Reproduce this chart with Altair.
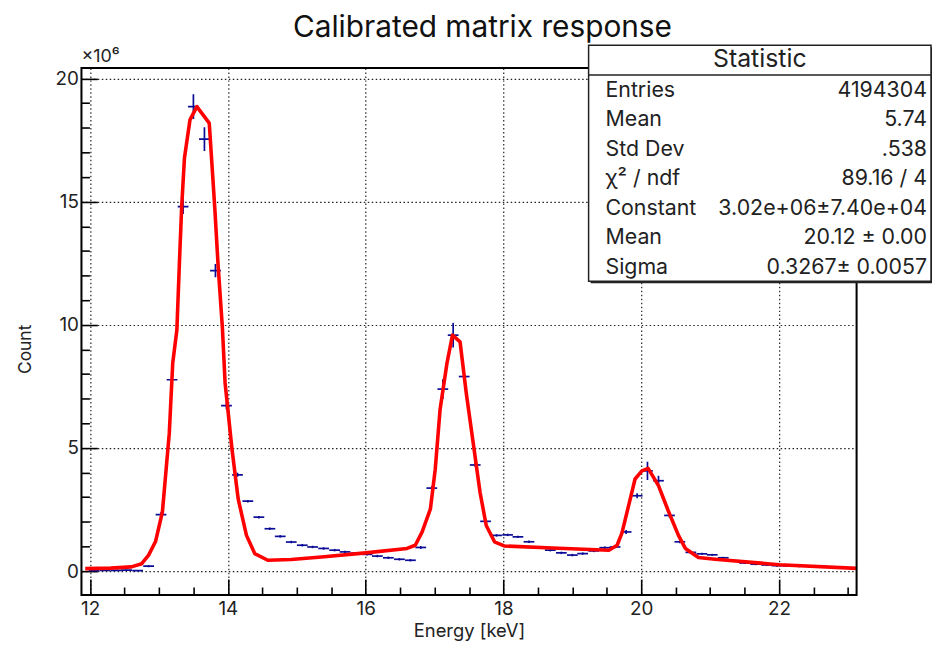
import altair as alt
import pandas as pd

# ---------------- data ----------------
bin_center_kev = [12.06, 12.22, 12.38, 12.53, 12.69, 12.85, 13.03, 13.19, 13.35, 13.50,
                  13.66, 13.82, 13.98, 14.14, 14.29, 14.45, 14.61, 14.76, 14.92, 15.08,
                  15.23, 15.39, 15.55, 15.70, 15.86, 16.02, 16.17, 16.33, 16.49, 16.65,
                  16.80, 16.96, 17.12, 17.27, 17.43, 17.59, 17.74, 17.90, 18.06, 18.21,
                  18.37, 18.53, 18.68, 18.84, 19.00, 19.15, 19.31, 19.47, 19.62, 19.78,
                  19.94, 20.09, 20.25, 20.41, 20.56, 20.72, 20.88, 21.03, 21.19, 21.35,
                  21.50, 21.66, 21.82, 21.97, 22.13, 22.29, 22.44, 22.60, 22.76, 22.91,
                  23.07]
count_millions = [0.02, 0.03, 0.03, 0.04, 0.02, 0.20, 2.29, 7.77, 14.80, 18.86,
                  17.54, 12.20, 6.72, 3.91, 2.84, 2.19, 1.72, 1.41, 1.18, 1.05,
                  0.98, 0.92, 0.85, 0.78, 0.73, 0.68, 0.61, 0.54, 0.48, 0.44,
                  0.96, 3.37, 7.39, 9.58, 7.90, 4.31, 2.02, 1.45, 1.47, 1.39,
                  1.19, 0.97, 0.85, 0.74, 0.65, 0.71, 0.82, 0.95, 0.98, 1.59,
                  3.06, 4.07, 3.67, 2.26, 1.19, 0.76, 0.70, 0.66, 0.54, 0.42,
                  0.33, 0.28, 0.25, 0.22, 0.21, 0.20, 0.20, 0.18, 0.16, 0.14,
                  0.13]
count_err_millions = [0.02, 0.02, 0.02, 0.02, 0.02, 0.04, 0.10, 0.20, 0.30, 0.50,
                      0.48, 0.27, 0.15, 0.08, 0.05, 0.05, 0.05, 0.05, 0.05, 0.05,
                      0.05, 0.05, 0.05, 0.05, 0.05, 0.05, 0.05, 0.05, 0.05, 0.05,
                      0.06, 0.08, 0.40, 0.50, 0.15, 0.08, 0.05, 0.05, 0.05, 0.05,
                      0.05, 0.05, 0.05, 0.05, 0.05, 0.05, 0.05, 0.05, 0.05, 0.08,
                      0.10, 0.37, 0.20, 0.08, 0.06, 0.04, 0.04, 0.04, 0.04, 0.04,
                      0.04, 0.04, 0.04, 0.04, 0.04, 0.04, 0.04, 0.04, 0.04, 0.04,
                      0.04]
bin_half_width_kev = 0.078

fit_energy_kev = [11.93, 12.30, 12.60, 12.75, 12.85, 12.95, 13.05, 13.15, 13.20, 13.26,
                  13.30, 13.33, 13.37, 13.45, 13.55, 13.73, 13.81, 13.86, 13.92, 13.96,
                  14.06, 14.15, 14.27, 14.39, 14.58, 14.92, 15.40, 16.00, 16.60, 16.72,
                  16.82, 16.94, 17.01, 17.08, 17.18, 17.26, 17.37, 17.46, 17.56, 17.66,
                  17.75, 17.87, 18.01, 18.71, 19.53, 19.65, 19.72, 19.82, 19.91, 20.01,
                  20.10, 20.25, 20.39, 20.54, 20.64, 20.83, 21.07, 22.00, 23.13]
fit_count_millions = [0.10, 0.12, 0.17, 0.30, 0.65, 1.20, 2.40, 5.60, 8.45, 9.79,
                      12.74, 14.80, 16.77, 18.32, 18.86, 18.19, 14.76, 12.34, 9.92, 7.64,
                      4.95, 2.93, 1.45, 0.71, 0.44, 0.47, 0.58, 0.74, 0.92, 1.05,
                      1.59, 2.53, 4.14, 6.56, 8.44, 9.58, 9.31, 7.23, 5.22, 3.20,
                      1.85, 1.19, 1.02, 0.94, 0.85, 1.05, 1.55, 2.70, 3.74, 4.07,
                      4.17, 3.47, 2.46, 1.45, 0.92, 0.55, 0.48, 0.26, 0.11]

x_major_ticks = [12, 14, 16, 18, 20, 22]
x_minor_ticks = [12.5, 13, 13.5, 14.5, 15, 15.5, 16.5, 17, 17.5, 18.5, 19, 19.5,
                 20.5, 21, 21.5, 22.5, 23]
y_major_ticks = [0, 5, 10, 15, 20]
y_minor_ticks = [1, 2, 3, 4, 6, 7, 8, 9, 11, 12, 13, 14, 16, 17, 18, 19]

stat_labels = ["Entries", "Mean", "Std Dev", "\u03c7\u00b2 / ndf", "Constant", "Mean", "Sigma"]
stat_values = ["4194304", "5.74", ".538", "89.16 / 4", "3.02e+06\u00b17.40e+04",
               "20.12 \u00b1 0.00", "0.3267\u00b1 0.0057"]

assert len(bin_center_kev) == len(count_millions) == len(count_err_millions)
assert len(fit_energy_kev) == len(fit_count_millions)

# ---------------- tables ----------------
pts = pd.DataFrame({"energy": bin_center_kev, "count": count_millions,
                    "err": count_err_millions})
pts["lo"] = pts["count"] - pts["err"]
pts["hi"] = pts["count"] + pts["err"]
pts["elo"] = pts["energy"] - bin_half_width_kev
pts["ehi"] = pts["energy"] + bin_half_width_kev
fit = pd.DataFrame({"energy": fit_energy_kev, "count": fit_count_millions})
one = pd.DataFrame({"k": [0]})

# ---------------- styling ----------------
W, H = 781, 531
FONT = "Inter"
BLUE = "#0c0c96"
RED = "#ff0000"
INK = "#222222"
xs = alt.Scale(domain=[11.875, 23.125], nice=False, zero=False)
ys = alt.Scale(domain=[-0.97, 20.43], nice=False, zero=False)

x_axis = alt.Axis(orient="bottom", values=x_major_ticks, title="Energy [keV]",
                  grid=True, gridDash=[1.5, 2.5], gridColor=INK, gridWidth=1.2,
                  domain=False, tickSize=16, offset=-16, tickColor="black", tickWidth=1.6,
                  labelFont=FONT, labelFontSize=19, labelColor=INK, labelPadding=5,
                  titleFont=FONT, titleFontSize=18.5, titleFontWeight="normal",
                  titleColor=INK, titlePadding=3)
y_axis = alt.Axis(orient="left", values=y_major_ticks, title="Count",
                  grid=True, gridDash=[1.5, 2.5], gridColor=INK, gridWidth=1.2,
                  domain=False, tickSize=16, offset=-16, tickColor="black", tickWidth=1.6,
                  labelFont=FONT, labelFontSize=19, labelColor=INK, labelPadding=3,
                  titleFont=FONT, titleFontSize=17.5, titleFontWeight="normal",
                  titleColor=INK, titlePadding=21, titleY=283)
x_minor_axis = alt.Axis(orient="bottom", values=x_minor_ticks, title=None, labels=False,
                        grid=False, domain=False, tickSize=8, offset=-8,
                        tickColor="black", tickWidth=1.6)
y_minor_axis = alt.Axis(orient="left", values=y_minor_ticks, title=None, labels=False,
                        grid=False, domain=False, tickSize=8, offset=-8,
                        tickColor="black", tickWidth=1.6)

# ---------------- data layers ----------------
vbars = alt.Chart(pts).mark_rule(color=BLUE, strokeWidth=1.7, clip=True).encode(
    x=alt.X("energy:Q", scale=xs, axis=x_axis),
    y=alt.Y("lo:Q", scale=ys, axis=y_axis),
    y2="hi:Q",
)
minor = alt.Chart(pts).mark_point(opacity=0).encode(
    x=alt.X("energy:Q", scale=xs, axis=x_minor_axis),
    y=alt.Y("count:Q", scale=ys, axis=y_minor_axis),
)
hbars = alt.Chart(pts).mark_rule(color=BLUE, strokeWidth=1.7, clip=True).encode(
    x=alt.X("elo:Q", scale=xs, axis=None),
    x2="ehi:Q",
    y=alt.Y("count:Q", scale=ys, axis=None),
)
fit_line = alt.Chart(fit).mark_line(color=RED, strokeWidth=3.6, clip=True,
                                    strokeJoin="round").encode(
    x=alt.X("energy:Q", scale=xs, axis=None),
    y=alt.Y("count:Q", scale=ys, axis=None),
    order="energy:Q",
)

frame = alt.Chart(one).mark_rect(fillOpacity=0, stroke="black", strokeWidth=2).encode(
    x=alt.value(0), x2=alt.value(W), y=alt.value(0), y2=alt.value(H))

# statistics box
BX0, BX1, BY0, BY1 = 511, 856, -23, 215
shadow = alt.Chart(one).mark_rect(fill=INK).encode(
    x=alt.value(BX0 + 2), x2=alt.value(BX1 + 2), y=alt.value(BY0 + 2), y2=alt.value(BY1 + 2))
box = alt.Chart(one).mark_rect(fill="white", stroke=INK, strokeWidth=1.5).encode(
    x=alt.value(BX0), x2=alt.value(BX1), y=alt.value(BY0), y2=alt.value(BY1))
sep = alt.Chart(one).mark_rule(color=INK, strokeWidth=1.5).encode(
    x=alt.value(BX0), x2=alt.value(BX1), y=alt.value(7))
box_title = alt.Chart(one).mark_text(font=FONT, fontSize=25, color=INK,
                                     align="center", baseline="middle").encode(
    x=alt.value((BX0 + BX1) / 2), y=alt.value(-9), text=alt.value("Statistic"))
box_labels = alt.Chart(one).mark_text(font=FONT, fontSize=21.5, color=INK, align="left",
                                      baseline="middle", lineHeight=29.7).encode(
    x=alt.value(BX0 + 17), y=alt.value(23), text=alt.value(stat_labels))
box_values = alt.Chart(one).mark_text(font=FONT, fontSize=21.5, color=INK, align="right",
                                      baseline="middle", lineHeight=29.7).encode(
    x=alt.value(BX1 - 4), y=alt.value(23), text=alt.value(stat_values))

title = alt.Chart(one).mark_text(font=FONT, fontSize=30, color="#111", align="center",
                                 baseline="alphabetic").encode(
    x=alt.value(404), y=alt.value(-31), text=alt.value("Calibrated matrix response"))
scale_note = alt.Chart(one).mark_text(font=FONT, fontSize=18, color=INK, align="left",
                                      baseline="middle").encode(
    x=alt.value(0), y=alt.value(-11), text=alt.value("\u00d710\u2076"))

chart = alt.layer(vbars, minor, hbars, fit_line, frame, shadow, box, sep, box_title,
                  box_labels, box_values, title, scale_note
                  ).resolve_axis(x="independent", y="independent").properties(
    width=W, height=H,
    autosize=alt.AutoSizeParams(type="none"),
    padding={"left": 74, "top": 58, "right": 76, "bottom": 52},
).configure_view(stroke=None).configure(font=FONT)

chart.save("out.html", embed_options={"renderer": "svg", "actions": False})
